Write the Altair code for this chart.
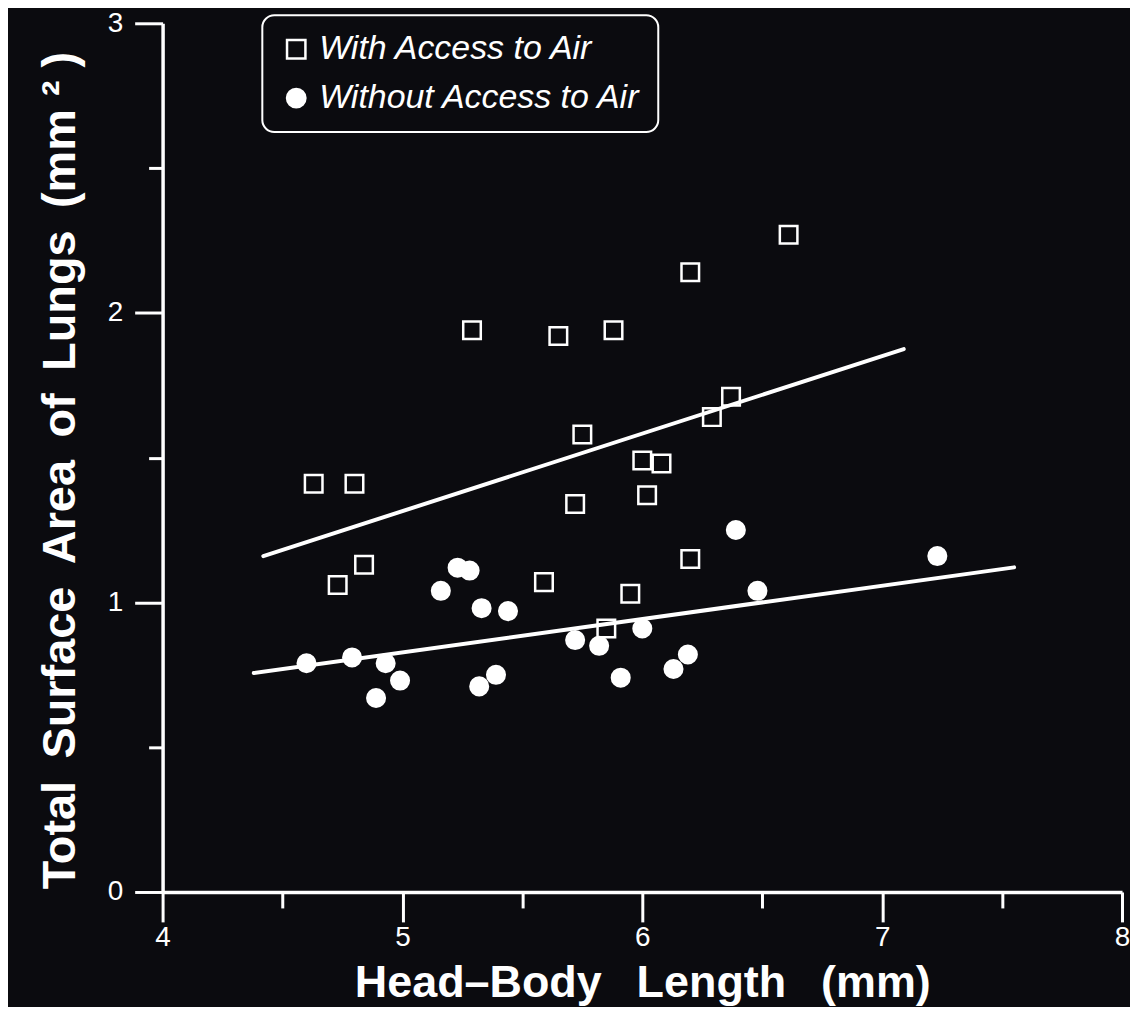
import altair as alt
import pandas as pd

# ---- data ----
series = ["With Access to Air", "Without Access to Air"]

with_x = [4.63, 4.80, 4.73, 4.84, 5.29, 5.65, 5.88, 5.59, 5.75, 5.72,
          6.00, 6.08, 6.02, 5.95, 5.85, 6.20, 6.61, 6.29, 6.37, 6.20]
with_y = [1.41, 1.41, 1.06, 1.13, 1.94, 1.92, 1.94, 1.07, 1.58, 1.34,
          1.49, 1.48, 1.37, 1.03, 0.91, 2.14, 2.27, 1.64, 1.71, 1.15]

without_x = [4.60, 4.79, 4.93, 4.89, 4.99, 5.16, 5.23, 5.28, 5.33, 5.44,
             5.32, 5.39, 5.72, 5.82, 6.00, 5.91, 6.13, 6.19, 6.39, 6.48, 7.23]
without_y = [0.79, 0.81, 0.79, 0.67, 0.73, 1.04, 1.12, 1.11, 0.98, 0.97,
             0.71, 0.75, 0.87, 0.85, 0.91, 0.74, 0.77, 0.82, 1.25, 1.04, 1.16]

fit_with_x = [4.42, 7.09]
fit_with_y = [1.16, 1.875]
fit_without_x = [4.38, 7.55]
fit_without_y = [0.756, 1.121]

x_ticks = [4, 4.5, 5, 5.5, 6, 6.5, 7, 7.5, 8]
y_ticks = [0, 0.5, 1, 1.5, 2, 2.5, 3]

points = pd.DataFrame({
    "length": with_x + without_x,
    "area": with_y + without_y,
    "group": [series[0]] * len(with_x) + [series[1]] * len(without_x),
})
fits = pd.DataFrame({
    "length": fit_with_x + fit_without_x,
    "area": fit_with_y + fit_without_y,
    "group": [series[0]] * 2 + [series[1]] * 2,
})

BG = "#0b0b0f"
FONT = "Liberation Sans, Arial, Helvetica, sans-serif"
TS = "\u2009"  # thin space to widen word gaps like the slide title

xscale = alt.Scale(domain=[4, 8], nice=False, zero=False)
yscale = alt.Scale(domain=[0, 3], nice=False, zero=False)

x_axis = alt.Axis(
    values=x_ticks,
    labelExpr="datum.value % 1 === 0 ? format(datum.value, 'd') : ''",
    tickSize={"condition": {"test": "datum.value % 1 === 0", "value": 30}, "value": 16},
    labelPadding=2,
    labelOverlap=False,
    labelFlush=False,
    grid=False,
    title="Head\u2013Body \u2002Length \u2002(mm)",
    titleX=481,
    titleY=105,
    titleAlign="center",
    titleBaseline="alphabetic",
    titleFontSize=45,
)
y_axis = alt.Axis(
    values=y_ticks,
    labelExpr="datum.value % 1 === 0 ? format(datum.value, 'd') : ''",
    tickSize={"condition": {"test": "datum.value % 1 === 0", "value": 28}, "value": 14},
    labelPadding=12,
    labelOverlap=False,
    labelFlush=False,
    grid=False,
    title=f"Total {TS}Surface {TS}Area {TS}of {TS}Lungs {TS}(mm \u00b2 )",
    titleX=-88,
    titleY=448,
    titleAngle=-90,
    titleAlign="center",
    titleBaseline="alphabetic",
    titleFontSize=47,
)

legend = alt.Legend(
    orient="none",
    legendX=100,
    legendY=-8,
    title=None,
    labelFontSize=34,
    labelFont=FONT,
    labelFontStyle="italic",
    labelColor="white",
    labelLimit=0,
    strokeColor="white",
    cornerRadius=12,
    padding=17,
    symbolSize=340,
    symbolStrokeColor="white",
    symbolStrokeWidth=2.5,
    rowPadding=15,
    labelOffset=6,
)

pts = alt.Chart(points).mark_point(
    filled=True, strokeWidth=2.5, size=310, opacity=1
).encode(
    x=alt.X("length:Q", scale=xscale, axis=x_axis),
    y=alt.Y("area:Q", scale=yscale, axis=y_axis),
    shape=alt.Shape("group:N", scale=alt.Scale(domain=series, range=["square", "circle"]), legend=legend),
    fill=alt.Fill("group:N", scale=alt.Scale(domain=series, range=["transparent", "white"]), legend=legend),
    stroke=alt.Stroke("group:N", scale=alt.Scale(domain=series, range=["white", "white"]), legend=legend),
)

lines = alt.Chart(fits).mark_line(color="white", strokeWidth=4, strokeCap="round").encode(
    x=alt.X("length:Q", scale=xscale),
    y=alt.Y("area:Q", scale=yscale),
    detail="group:N",
)

chart = alt.layer(pts, lines).properties(
    width=962,
    height=871,
    padding={"left": 155, "top": 14, "right": 8, "bottom": 114},
    autosize=alt.AutoSizeParams(type="none"),
    background=BG,
).configure_view(
    stroke=None
).configure_axis(
    domainColor="white",
    domainWidth=3.5,
    tickColor="white",
    tickWidth=3,
    labelColor="white",
    labelFont=FONT,
    labelFontSize=28,
    titleColor="white",
    titleFont=FONT,
    titleFontWeight="bold",
).configure_legend(
    strokeWidth=2,
)

chart.save("out.html", embed_options={"renderer": "svg", "actions": False})
